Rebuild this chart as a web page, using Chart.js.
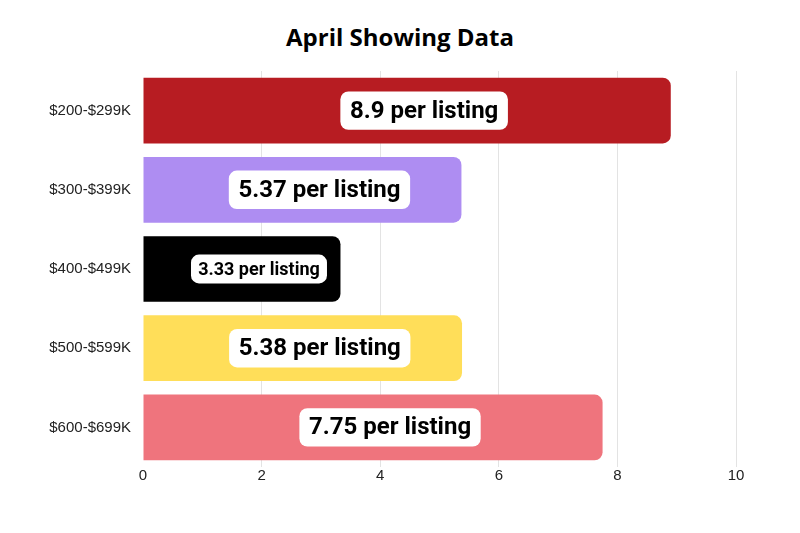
<!DOCTYPE html>
<html>
<head>
<meta charset="utf-8">
<script src="https://cdn.jsdelivr.net/npm/chart.js@4"></script>
<style>
  html, body { margin: 0; padding: 0; background: #fff; }
  #title {
    width: 800px; height: 50px; margin: 0; overflow: visible;
    font: 700 24px 'Open Sans', sans-serif; color: #000;
    text-align: center; line-height: 74px;
  }
  #wrap { width: 800px; height: 483px; }
</style>
</head>
<body>
<h1 id="title">April Showing Data</h1>
<div id="wrap"><canvas id="ShowingChart"></canvas></div>
<script>
// data
const priceRanges = ['$200-$299K', '$300-$399K', '$400-$499K', '$500-$599K', '$600-$699K'];
const showingsPerListing = [8.9, 5.37, 3.33, 5.38, 7.75];
const xTicks = [0, 2, 4, 6, 8, 10];

const barColors = ['#b71c22', '#ae8df2', '#000000', '#ffde59', '#ef747d'];
const labelSizes = [24, 24, 18, 24, 24];

// white rounded boxes with the value in the middle of each bar
const valueBoxes = {
    id: 'valueBoxes',
    afterDatasetsDraw(chart) {
        const ctx = chart.ctx;
        const meta = chart.getDatasetMeta(0);
        meta.data.forEach((bar, i) => {
            const text = showingsPerListing[i] + ' per listing';
            const size = labelSizes[i];
            ctx.save();
            ctx.font = '700 ' + size + 'px Roboto';
            const w = ctx.measureText(text).width;
            const padX = size * 0.4;
            const h = size * 1.6;
            const cx = (bar.base + bar.x) / 2 + 17;
            const cy = bar.y;
            ctx.fillStyle = '#ffffff';
            ctx.beginPath();
            ctx.roundRect(cx - w / 2 - padX, cy - h / 2, w + padX * 2, h, 8);
            ctx.fill();
            ctx.fillStyle = '#000000';
            ctx.textAlign = 'center';
            ctx.textBaseline = 'middle';
            ctx.fillText(text, cx, cy + 1);
            ctx.restore();
        });
    }
};

const showing = document.getElementById('ShowingChart').getContext('2d');
const showingChart = new Chart(showing, {
    type: 'bar',
    data: {
        labels: priceRanges,
        datasets: [{
            data: showingsPerListing,
            backgroundColor: barColors,
            borderRadius: 8,
            borderSkipped: 'start',
            barPercentage: 0.83,
            categoryPercentage: 1
        }]
    },
    options: {
        indexAxis: 'y',
        responsive: true,
        maintainAspectRatio: false,
        animation: false,
        layout: {
            padding: { top: 0, right: 64, bottom: 48, left: 0 }
        },
        plugins: {
            legend: { display: false },
            tooltip: { enabled: false }
        },
        scales: {
            x: {
                min: 0,
                max: 10,
                afterBuildTicks: (axis) => { axis.ticks = xTicks.map(v => ({ value: v })); },
                grid: {
                    color: (c) => c.tick && c.tick.value === 0 ? 'rgba(0,0,0,0)' : '#e3e3e3',
                    drawTicks: false
                },
                border: { display: false },
                ticks: {
                    color: '#222',
                    padding: 0,
                    font: { family: 'Liberation Sans', size: 15 }
                }
            },
            y: {
                afterFit: (axis) => { axis.width = 143; },
                grid: { display: false, drawTicks: false },
                border: { display: false },
                ticks: {
                    color: '#222',
                    padding: 12,
                    font: { family: 'Liberation Sans', size: 15 }
                }
            }
        }
    },
    plugins: [valueBoxes]
});
</script>
</body>
</html>
